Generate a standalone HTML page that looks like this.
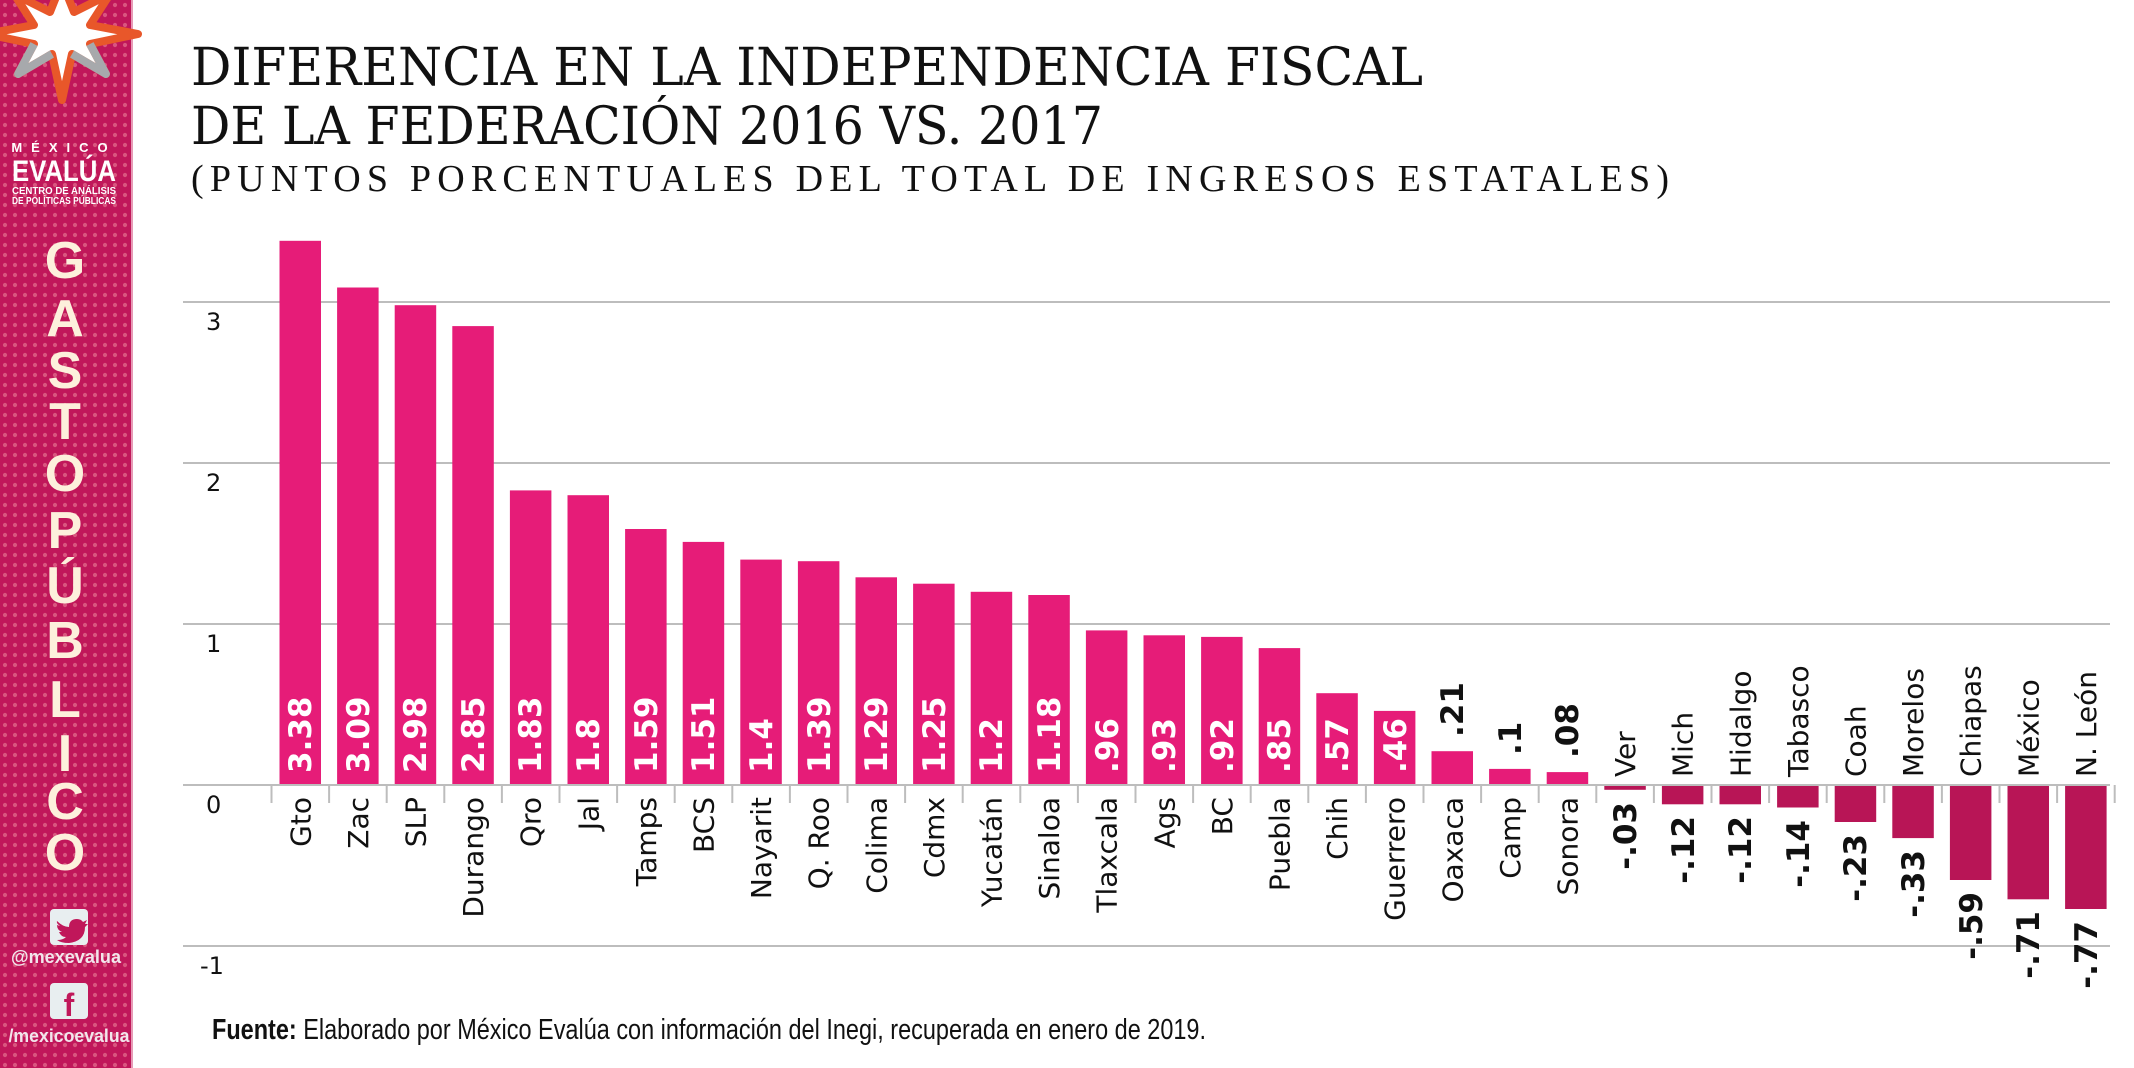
<!DOCTYPE html>
<html><head><meta charset="utf-8"><style>
html,body{margin:0;padding:0;background:#fff;}
svg{display:block;}
.c{font-family:"DejaVu Sans","Liberation Sans",sans-serif;font-size:28px;fill:#111;}
.v{font-family:"DejaVu Sans","Liberation Sans",sans-serif;font-size:31px;font-weight:bold;fill:#fff;}
.k{font-family:"DejaVu Sans","Liberation Sans",sans-serif;font-size:31px;font-weight:bold;fill:#111;}
</style></head><body>
<svg width="2134" height="1068" viewBox="0 0 2134 1068" xmlns="http://www.w3.org/2000/svg">
<defs>
<pattern id="dots" x="0" y="0" width="10" height="10" patternUnits="userSpaceOnUse">
<circle cx="5" cy="5" r="2.1" fill="#d9567f"/>
</pattern>
</defs>
<rect x="0" y="0" width="131" height="1068" fill="#c0175a"/>
<rect x="0" y="0" width="131" height="1068" fill="url(#dots)"/>
<rect x="131" y="0" width="2" height="1068" fill="#e79ab6"/>
<g transform="translate(62,30)">
<polygon points="0,-48 12,-18 48,-36 28,-5 76,4 28,14 44,44 10,24 0,70 -10,24 -44,44 -28,14 -76,4 -28,-5 -48,-36 -12,-18" fill="#ffffff" stroke="#e8572a" stroke-width="8" stroke-linejoin="round"/>
<polyline points="-28,14 -44,44 -10,24" fill="none" stroke="#a7a9ac" stroke-width="8" stroke-linejoin="round"/>
<polyline points="28,14 44,44 10,24" fill="none" stroke="#a7a9ac" stroke-width="8" stroke-linejoin="round"/>
</g>
<g font-family="Liberation Sans, sans-serif" fill="#ffffff" text-anchor="middle" font-weight="bold">
<text x="64" y="152" font-size="13" letter-spacing="9">MÉXICO</text>
<text x="64" y="181" font-size="30" textLength="104" lengthAdjust="spacingAndGlyphs">EVALÚA</text>
<text x="64" y="194" font-size="10" textLength="104" lengthAdjust="spacingAndGlyphs">CENTRO DE ANÁLISIS</text>
<text x="64" y="204" font-size="10" textLength="104" lengthAdjust="spacingAndGlyphs">DE POLÍTICAS PÚBLICAS</text>
</g>
<g font-family="Liberation Sans, sans-serif" font-weight="bold" fill="#fdf0dc" text-anchor="middle" font-size="52">
<text x="65" y="278">G</text><text x="65" y="336">A</text><text x="65" y="388">S</text><text x="65" y="439">T</text><text x="65" y="491">O</text><text x="65" y="548">P</text><text x="65" y="603">Ú</text><text x="65" y="658">B</text><text x="65" y="717">L</text><text x="65" y="771">I</text><text x="65" y="819">C</text><text x="65" y="870">O</text>
</g>
<rect x="50" y="909" width="38" height="36" rx="4" fill="#e8eef0"/>
<path d="M57,921 q6,6 12,6 q0,-8 8,-8 q4,0 6,3 l4,-2 l-2,4 l3,0 l-3,3 q0,14 -16,16 q-8,0 -12,-3 q6,0 9,-3 q-5,0 -7,-5 l3,0 q-5,-2 -5,-7 l3,1 q-4,-3 -3,-5z" fill="#c0175a"/>
<text x="66" y="963" font-family="Liberation Sans, sans-serif" font-weight="bold" font-size="18" fill="#f2e6ec" text-anchor="middle" textLength="110" lengthAdjust="spacingAndGlyphs">@mexevalua</text>
<rect x="50" y="983" width="38" height="36" rx="4" fill="#e8eef0"/>
<text x="69" y="1016" font-family="Liberation Sans, sans-serif" font-weight="bold" font-size="32" fill="#c0175a" text-anchor="middle">f</text>
<text x="69" y="1042" font-family="Liberation Sans, sans-serif" font-weight="bold" font-size="18" fill="#f2e6ec" text-anchor="middle" textLength="121" lengthAdjust="spacingAndGlyphs">/mexicoevalua</text>

<g font-family="DejaVu Serif, Liberation Serif, serif" fill="#111">
<text x="191" y="85" font-size="52" textLength="1232" lengthAdjust="spacingAndGlyphs">DIFERENCIA EN LA INDEPENDENCIA FISCAL</text>
<text x="191" y="144" font-size="52" textLength="912" lengthAdjust="spacingAndGlyphs">DE LA FEDERACIÓN 2016 VS. 2017</text>
<text x="191" y="191" font-size="38" textLength="1478" lengthAdjust="spacing" style="font-family:'Liberation Serif',serif">(PUNTOS PORCENTUALES DEL TOTAL DE INGRESOS ESTATALES)</text>
</g>

<g stroke="#bdbdbd" stroke-width="2">
<line x1="183" y1="302" x2="2110" y2="302"/>
<line x1="183" y1="463" x2="2110" y2="463"/>
<line x1="183" y1="624" x2="2110" y2="624"/>
<line x1="183" y1="946" x2="2110" y2="946"/>
</g>
<g font-family="DejaVu Sans, Liberation Sans, sans-serif" font-size="24" fill="#111">
<text x="206" y="330">3</text><text x="206" y="491">2</text><text x="206" y="652">1</text><text x="206" y="813">0</text><text x="200" y="974">-1</text>
</g>

<g fill="#e61c78">
<rect x="279.5" y="240.8" width="41.5" height="544.2"/>
<rect x="337.1" y="287.5" width="41.5" height="497.5"/>
<rect x="394.7" y="305.2" width="41.5" height="479.8"/>
<rect x="452.3" y="326.1" width="41.5" height="458.9"/>
<rect x="509.9" y="490.4" width="41.5" height="294.6"/>
<rect x="567.5" y="495.2" width="41.5" height="289.8"/>
<rect x="625.1" y="529" width="41.5" height="256"/>
<rect x="682.7" y="541.9" width="41.5" height="243.1"/>
<rect x="740.3" y="559.6" width="41.5" height="225.4"/>
<rect x="797.9" y="561.2" width="41.5" height="223.8"/>
<rect x="855.5" y="577.3" width="41.5" height="207.7"/>
<rect x="913.1" y="583.7" width="41.5" height="201.3"/>
<rect x="970.7" y="591.8" width="41.5" height="193.2"/>
<rect x="1028.3" y="595" width="41.5" height="190"/>
<rect x="1085.9" y="630.4" width="41.5" height="154.6"/>
<rect x="1143.5" y="635.3" width="41.5" height="149.7"/>
<rect x="1201.1" y="636.9" width="41.5" height="148.1"/>
<rect x="1258.7" y="648.1" width="41.5" height="136.9"/>
<rect x="1316.3" y="693.2" width="41.5" height="91.8"/>
<rect x="1373.9" y="710.9" width="41.5" height="74.1"/>
<rect x="1431.5" y="751.2" width="41.5" height="33.8"/>
<rect x="1489.1" y="768.9" width="41.5" height="16.1"/>
<rect x="1546.7" y="772.1" width="41.5" height="12.9"/>
</g>
<g fill="#b81556">
<rect x="1604.3" y="785" width="41.5" height="4.8"/>
<rect x="1661.9" y="785" width="41.5" height="19.3"/>
<rect x="1719.5" y="785" width="41.5" height="19.3"/>
<rect x="1777.1" y="785" width="41.5" height="22.5"/>
<rect x="1834.7" y="785" width="41.5" height="37"/>
<rect x="1892.3" y="785" width="41.5" height="53.1"/>
<rect x="1949.9" y="785" width="41.5" height="95"/>
<rect x="2007.5" y="785" width="41.5" height="114.3"/>
<rect x="2065.1" y="785" width="41.5" height="124"/>
</g>
<line x1="183" y1="785" x2="2110" y2="785" stroke="#bdbdbd" stroke-width="2"/>
<g stroke="#bdbdbd" stroke-width="2">
<line x1="271.5" y1="785" x2="271.5" y2="803"/><line x1="329.1" y1="785" x2="329.1" y2="803"/><line x1="386.7" y1="785" x2="386.7" y2="803"/><line x1="444.3" y1="785" x2="444.3" y2="803"/><line x1="501.9" y1="785" x2="501.9" y2="803"/><line x1="559.5" y1="785" x2="559.5" y2="803"/><line x1="617.1" y1="785" x2="617.1" y2="803"/><line x1="674.7" y1="785" x2="674.7" y2="803"/><line x1="732.3" y1="785" x2="732.3" y2="803"/><line x1="789.9" y1="785" x2="789.9" y2="803"/><line x1="847.5" y1="785" x2="847.5" y2="803"/><line x1="905.1" y1="785" x2="905.1" y2="803"/><line x1="962.7" y1="785" x2="962.7" y2="803"/><line x1="1020.3" y1="785" x2="1020.3" y2="803"/><line x1="1077.9" y1="785" x2="1077.9" y2="803"/><line x1="1135.5" y1="785" x2="1135.5" y2="803"/><line x1="1193.1" y1="785" x2="1193.1" y2="803"/><line x1="1250.7" y1="785" x2="1250.7" y2="803"/><line x1="1308.3" y1="785" x2="1308.3" y2="803"/><line x1="1365.9" y1="785" x2="1365.9" y2="803"/><line x1="1423.5" y1="785" x2="1423.5" y2="803"/><line x1="1481.1" y1="785" x2="1481.1" y2="803"/><line x1="1538.7" y1="785" x2="1538.7" y2="803"/><line x1="1596.3" y1="785" x2="1596.3" y2="803"/><line x1="1653.9" y1="785" x2="1653.9" y2="803"/><line x1="1711.5" y1="785" x2="1711.5" y2="803"/><line x1="1769.1" y1="785" x2="1769.1" y2="803"/><line x1="1826.7" y1="785" x2="1826.7" y2="803"/><line x1="1884.3" y1="785" x2="1884.3" y2="803"/><line x1="1941.9" y1="785" x2="1941.9" y2="803"/><line x1="1999.5" y1="785" x2="1999.5" y2="803"/><line x1="2057.1" y1="785" x2="2057.1" y2="803"/><line x1="2114.7" y1="785" x2="2114.7" y2="803"/>
</g>

<!-- category labels (positive: below axis) -->
<g class="c" text-anchor="end">
<text class="c" transform="translate(310.25,797) rotate(-90)">Gto</text>
<text class="c" transform="translate(367.85,797) rotate(-90)">Zac</text>
<text class="c" transform="translate(425.45,797) rotate(-90)">SLP</text>
<text class="c" transform="translate(483.05,797) rotate(-90)">Durango</text>
<text class="c" transform="translate(540.65,797) rotate(-90)">Qro</text>
<text class="c" transform="translate(598.25,797) rotate(-90)">Jal</text>
<text class="c" transform="translate(655.85,797) rotate(-90)">Tamps</text>
<text class="c" transform="translate(713.45,797) rotate(-90)">BCS</text>
<text class="c" transform="translate(771.05,797) rotate(-90)">Nayarit</text>
<text class="c" transform="translate(828.65,797) rotate(-90)">Q. Roo</text>
<text class="c" transform="translate(886.25,797) rotate(-90)">Colima</text>
<text class="c" transform="translate(943.85,797) rotate(-90)">Cdmx</text>
<text class="c" transform="translate(1001.45,797) rotate(-90)">Yucatán</text>
<text class="c" transform="translate(1059.05,797) rotate(-90)">Sinaloa</text>
<text class="c" transform="translate(1116.65,797) rotate(-90)">Tlaxcala</text>
<text class="c" transform="translate(1174.25,797) rotate(-90)">Ags</text>
<text class="c" transform="translate(1231.85,797) rotate(-90)">BC</text>
<text class="c" transform="translate(1289.45,797) rotate(-90)">Puebla</text>
<text class="c" transform="translate(1347.05,797) rotate(-90)">Chih</text>
<text class="c" transform="translate(1404.65,797) rotate(-90)">Guerrero</text>
<text class="c" transform="translate(1462.25,797) rotate(-90)">Oaxaca</text>
<text class="c" transform="translate(1519.85,797) rotate(-90)">Camp</text>
<text class="c" transform="translate(1577.45,797) rotate(-90)">Sonora</text>
</g>
<g class="c" text-anchor="start">
<text class="c" transform="translate(1635.05,777) rotate(-90)">Ver</text>
<text class="c" transform="translate(1692.65,777) rotate(-90)">Mich</text>
<text class="c" transform="translate(1750.25,777) rotate(-90)">Hidalgo</text>
<text class="c" transform="translate(1807.85,777) rotate(-90)">Tabasco</text>
<text class="c" transform="translate(1865.45,777) rotate(-90)">Coah</text>
<text class="c" transform="translate(1923.05,777) rotate(-90)">Morelos</text>
<text class="c" transform="translate(1980.65,777) rotate(-90)">Chiapas</text>
<text class="c" transform="translate(2038.25,777) rotate(-90)">México</text>
<text class="c" transform="translate(2095.85,777) rotate(-90)">N. León</text>
</g>

<!-- values inside bars -->
<g text-anchor="start">
<text class="v" transform="translate(311,773) rotate(-90)">3.38</text>
<text class="v" transform="translate(369,773) rotate(-90)">3.09</text>
<text class="v" transform="translate(426,773) rotate(-90)">2.98</text>
<text class="v" transform="translate(484,773) rotate(-90)">2.85</text>
<text class="v" transform="translate(541,773) rotate(-90)">1.83</text>
<text class="v" transform="translate(599,773) rotate(-90)">1.8</text>
<text class="v" transform="translate(657,773) rotate(-90)">1.59</text>
<text class="v" transform="translate(714,773) rotate(-90)">1.51</text>
<text class="v" transform="translate(772,773) rotate(-90)">1.4</text>
<text class="v" transform="translate(830,773) rotate(-90)">1.39</text>
<text class="v" transform="translate(887,773) rotate(-90)">1.29</text>
<text class="v" transform="translate(945,773) rotate(-90)">1.25</text>
<text class="v" transform="translate(1002,773) rotate(-90)">1.2</text>
<text class="v" transform="translate(1060,773) rotate(-90)">1.18</text>
<text class="v" transform="translate(1118,773) rotate(-90)">.96</text>
<text class="v" transform="translate(1175,773) rotate(-90)">.93</text>
<text class="v" transform="translate(1233,773) rotate(-90)">.92</text>
<text class="v" transform="translate(1290,773) rotate(-90)">.85</text>
<text class="v" transform="translate(1348,773) rotate(-90)">.57</text>
<text class="v" transform="translate(1406,773) rotate(-90)">.46</text>
<text class="k" transform="translate(1463,737) rotate(-90)">.21</text>
<text class="k" transform="translate(1521,755) rotate(-90)">.1</text>
<text class="k" transform="translate(1578,758) rotate(-90)">.08</text>
</g>
<g text-anchor="end">
<text class="k" transform="translate(1636,802) rotate(-90)">-.03</text>
<text class="k" transform="translate(1694,816) rotate(-90)">-.12</text>
<text class="k" transform="translate(1751,816) rotate(-90)">-.12</text>
<text class="k" transform="translate(1809,820) rotate(-90)">-.14</text>
<text class="k" transform="translate(1866,834) rotate(-90)">-.23</text>
<text class="k" transform="translate(1924,850) rotate(-90)">-.33</text>
<text class="k" transform="translate(1982,892) rotate(-90)">-.59</text>
<text class="k" transform="translate(2039,911) rotate(-90)">-.71</text>
<text class="k" transform="translate(2097,921) rotate(-90)">-.77</text>
</g>

<text x="212" y="1039" font-family="'Liberation Sans Narrow','Liberation Sans',sans-serif" font-size="29" fill="#111" textLength="994" lengthAdjust="spacingAndGlyphs"><tspan font-weight="bold">Fuente:</tspan> Elaborado por México Evalúa con información del Inegi, recuperada en enero de 2019.</text>
</svg>
</body></html>
